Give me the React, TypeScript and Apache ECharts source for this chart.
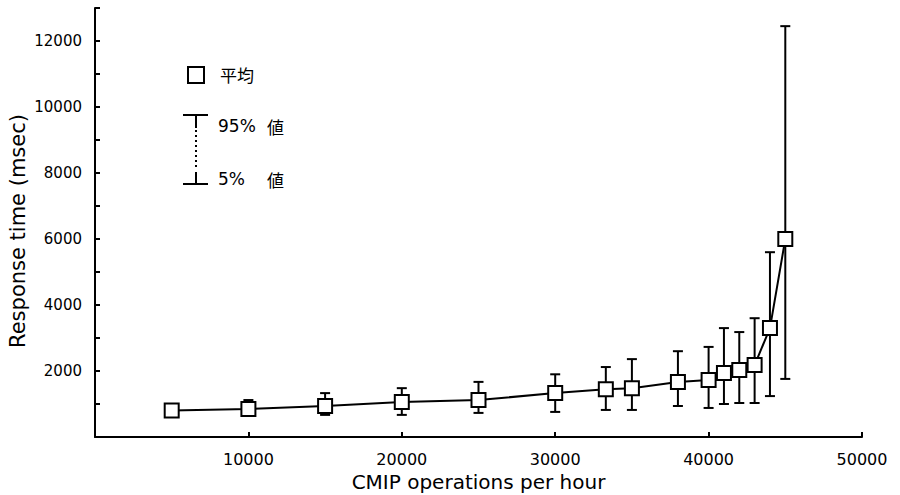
import React, { useEffect, useRef } from "react";
import * as echarts from "echarts";

const opsPerHour = [5000, 10000, 15000, 20000, 25000, 30000, 33300, 35000, 38000, 40000, 41000, 42000, 43000, 44000, 45000];
const meanMs = [800, 850, 940, 1060, 1120, 1330, 1450, 1480, 1670, 1730, 1940, 2030, 2180, 3300, 6000];
const p95Ms = [880, 1120, 1330, 1480, 1670, 1900, 2120, 2360, 2600, 2730, 3300, 3180, 3600, 5600, 12450];
const p5Ms = [720, 640, 670, 670, 730, 760, 820, 820, 940, 880, 1000, 1030, 1030, 1240, 1760];

const xTitle = "CMIP operations per hour";
const yTitle = "Response time (msec)";
const legendMean = "平均";
const legendP95 = "95%";
const legendP5 = "5%";
const legendValue = "値";

const FONT = "DejaVu Sans, 'Noto Sans CJK JP', sans-serif";
const CJK = "'Noto Sans CJK JP', 'DejaVu Sans', sans-serif";

export default function App() {
  const ref = useRef<HTMLDivElement>(null);
  useEffect(() => {
    if (!ref.current) return;
    const chart = echarts.init(ref.current, undefined, { renderer: "svg" });
    const meanData = opsPerHour.map((x, i) => [x, meanMs[i]]);
    const errData = opsPerHour.map((x, i) => [x, p5Ms[i], p95Ms[i]]);
    chart.setOption({
      animation: false,
      backgroundColor: "#ffffff",
      grid: { left: 95, right: 38, top: 8, bottom: 58, containLabel: false, outerBoundsMode: "none" },
      xAxis: {
        type: "value",
        min: 0,
        max: 50000,
        interval: 10000,
        name: xTitle,
        nameLocation: "middle",
        nameGap: 35,
        nameTextStyle: { fontFamily: FONT, fontSize: 20, color: "#000" },
        axisLine: { show: true, lineStyle: { color: "#000", width: 2 } },
        axisTick: { show: true, inside: true, length: 5, lineStyle: { color: "#000", width: 2 } },
        axisLabel: {
          color: "#000",
          fontFamily: FONT,
          fontSize: 16,
          margin: 14,
          formatter: (v: number) => (v === 0 ? "" : String(v)),
        },
        splitLine: { show: false },
      },
      yAxis: {
        type: "value",
        min: 0,
        max: 13000,
        interval: 1000,
        axisLine: { show: true, lineStyle: { color: "#000", width: 2 } },
        axisTick: { show: true, inside: true, length: 5, lineStyle: { color: "#000", width: 2 } },
        axisLabel: {
          color: "#000",
          fontFamily: FONT,
          fontSize: 15,
          margin: 13,
          formatter: (v: number) => (v > 0 && v < 13000 && v % 2000 === 0 ? String(v) : ""),
        },
        splitLine: { show: false },
      },
      series: [
        {
          type: "custom",
          z: 2,
          data: errData,
          renderItem: (params: any, api: any) => {
            const x = api.value(0);
            const lo = api.coord([x, api.value(1)]);
            const hi = api.coord([x, api.value(2)]);
            const half = 5;
            const style = { stroke: "#000", lineWidth: 2 };
            return {
              type: "group",
              children: [
                { type: "line", shape: { x1: hi[0], y1: hi[1], x2: lo[0], y2: lo[1] }, style },
                { type: "line", shape: { x1: hi[0] - half, y1: hi[1], x2: hi[0] + half, y2: hi[1] }, style },
                { type: "line", shape: { x1: lo[0] - half, y1: lo[1], x2: lo[0] + half, y2: lo[1] }, style },
              ],
            };
          },
        },
        {
          type: "line",
          z: 3,
          data: meanData,
          symbol: "rect",
          symbolSize: 14,
          showSymbol: true,
          lineStyle: { color: "#000", width: 2 },
          itemStyle: { color: "#fff", borderColor: "#000", borderWidth: 2 },
        },
      ],
      graphic: [
        {
          type: "text",
          x: 18,
          y: 231,
          rotation: Math.PI / 2,
          style: { text: yTitle, fontFamily: FONT, fontSize: 21, fill: "#000", align: "center", verticalAlign: "middle" },
        },
        { type: "rect", shape: { x: 188, y: 67, width: 16, height: 16 }, style: { fill: "#fff", stroke: "#000", lineWidth: 2 } },
        { type: "text", x: 220, y: 74, style: { text: legendMean, fontFamily: CJK, fontSize: 17, fill: "#000", verticalAlign: "middle" } },
        { type: "line", shape: { x1: 183, y1: 115, x2: 208, y2: 115 }, style: { stroke: "#000", lineWidth: 2 } },
        { type: "line", shape: { x1: 196, y1: 115, x2: 196, y2: 128 }, style: { stroke: "#000", lineWidth: 2 } },
        { type: "line", shape: { x1: 196, y1: 130, x2: 196, y2: 170 }, style: { stroke: "#000", lineWidth: 2, lineDash: [2, 3] } },
        { type: "line", shape: { x1: 196, y1: 172, x2: 196, y2: 184 }, style: { stroke: "#000", lineWidth: 2 } },
        { type: "line", shape: { x1: 183, y1: 184, x2: 208, y2: 184 }, style: { stroke: "#000", lineWidth: 2 } },
        { type: "text", x: 218, y: 126, style: { text: legendP95, fontFamily: FONT, fontSize: 17, fill: "#000", verticalAlign: "middle" } },
        { type: "text", x: 267, y: 126, style: { text: legendValue, fontFamily: CJK, fontSize: 17, fill: "#000", verticalAlign: "middle" } },
        { type: "text", x: 218, y: 179, style: { text: legendP5, fontFamily: FONT, fontSize: 17, fill: "#000", verticalAlign: "middle" } },
        { type: "text", x: 267, y: 179, style: { text: legendValue, fontFamily: CJK, fontSize: 17, fill: "#000", verticalAlign: "middle" } },
      ],
    });
    return () => chart.dispose();
  }, []);
  return (
    <div
      ref={ref}
      style={{ position: "fixed", left: 0, top: 0, width: 900, height: 495, background: "#fff" }}
    />
  );
}
